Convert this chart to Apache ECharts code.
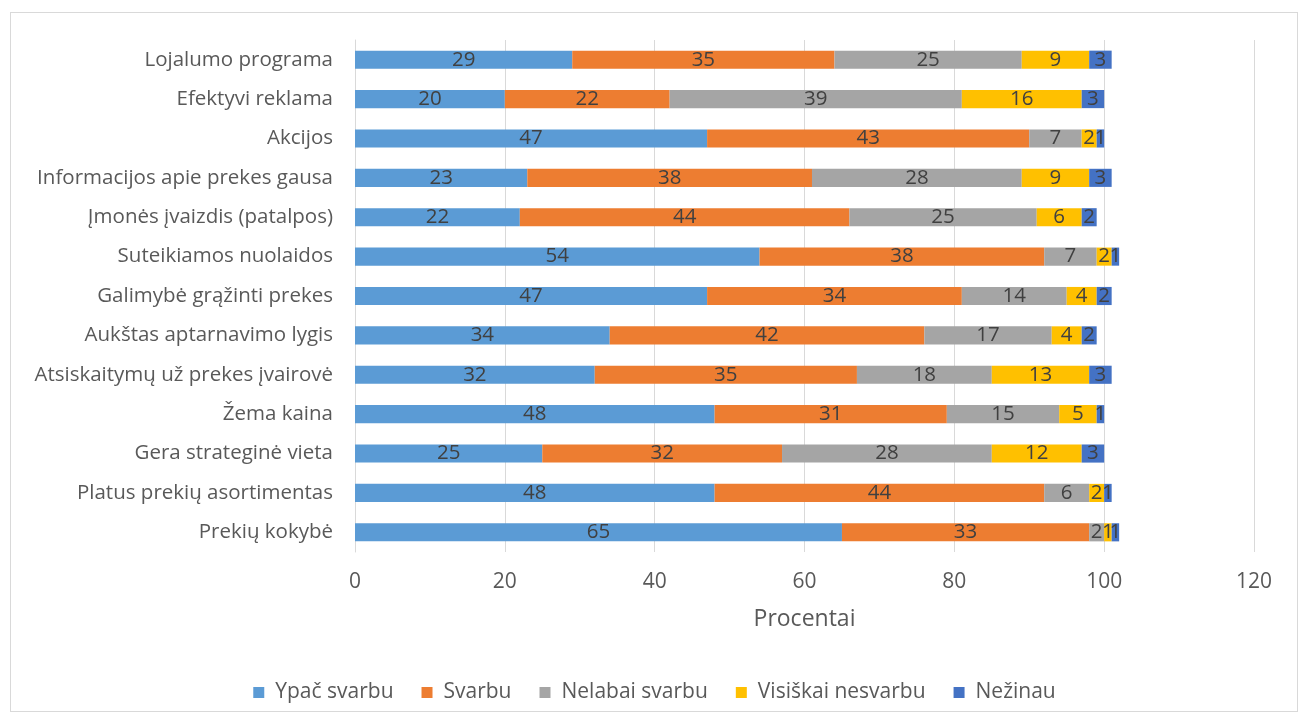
<!DOCTYPE html>
<html>
<head>
<meta charset="utf-8">
<script src="https://cdn.jsdelivr.net/npm/echarts@6/dist/echarts.min.js"></script>
<style>
  html, body { margin: 0; padding: 0; background: #fff; }
  #frame { position: absolute; left: 10px; top: 12px; width: 1288px; height: 700px; border: 1px solid #d9d9d9; box-sizing: border-box; }
  #chart { position: absolute; left: 0; top: 0; width: 1309px; height: 722px; }
</style>
</head>
<body>
<div id="frame"></div>
<div id="chart"></div>
<script>
// Categories listed bottom-to-top (ECharts category axis starts at the bottom)
const categories = [
  'Prekių kokybė',
  'Platus prekių asortimentas',
  'Gera strateginė vieta',
  'Žema kaina',
  'Atsiskaitymų už prekes įvairovė',
  'Aukštas aptarnavimo lygis',
  'Galimybė grąžinti prekes',
  'Suteikiamos nuolaidos',
  'Įmonės įvaizdis (patalpos)',
  'Informacijos apie prekes gausa',
  'Akcijos',
  'Efektyvi reklama',
  'Lojalumo programa'
];

const ypacSvarbu       = [65, 48, 25, 48, 32, 34, 47, 54, 22, 23, 47, 20, 29];
const svarbu           = [33, 44, 32, 31, 35, 42, 34, 38, 44, 38, 43, 22, 35];
const nelabaiSvarbu    = [2, 6, 28, 15, 18, 17, 14, 7, 25, 28, 7, 39, 25];
const visiskaiNesvarbu = [1, 2, 12, 5, 13, 4, 4, 2, 6, 9, 2, 16, 9];
const nezinau          = [1, 1, 3, 1, 3, 2, 2, 1, 2, 3, 1, 3, 3];

const seriesNames = ['Ypač svarbu', 'Svarbu', 'Nelabai svarbu', 'Visiškai nesvarbu', 'Nežinau'];
const seriesData = [ypacSvarbu, svarbu, nelabaiSvarbu, visiskaiNesvarbu, nezinau];
const colors = ['#5B9BD5', '#ED7D31', '#A5A5A5', '#FFC000', '#4472C4'];

const FONT = 'Open Sans';
const chart = echarts.init(document.getElementById('chart'));

chart.setOption({
  animation: false,
  color: colors,
  textStyle: { fontFamily: FONT },
  grid: { left: 355, right: 55, top: 40, bottom: 170 },
  legend: {
    bottom: 14,
    left: 'center',
    itemWidth: 11,
    itemHeight: 11,
    itemGap: 28,
    icon: 'rect',
    textStyle: { fontSize: 21, color: '#595959', fontFamily: FONT, padding: [0, 0, 0, 6] },
    data: seriesNames
  },
  xAxis: {
    type: 'value',
    min: 0,
    max: 120,
    interval: 20,
    name: 'Procentai',
    nameLocation: 'middle',
    nameGap: 56,
    nameTextStyle: { fontSize: 23, color: '#595959', fontFamily: FONT },
    axisLine: { show: false },
    axisTick: { show: false },
    axisLabel: { fontSize: 21, color: '#595959', margin: 20 },
    splitLine: { lineStyle: { color: '#d9d9d9', width: 1 } }
  },
  yAxis: {
    type: 'category',
    data: categories,
    axisLine: { show: true, lineStyle: { color: '#d9d9d9' } },
    axisTick: { show: false },
    axisLabel: { fontSize: 20.5, color: '#595959', margin: 22 }
  },
  series: seriesData.map((d, i) => ({
    name: seriesNames[i],
    type: 'bar',
    stack: 'total',
    barWidth: '46%',
    data: d,
    label: {
      show: true,
      position: 'inside',
      fontSize: 20.5,
      color: '#404040',
      fontFamily: FONT
    },
    labelLayout: { hideOverlap: false }
  }))
});
</script>
</body>
</html>
